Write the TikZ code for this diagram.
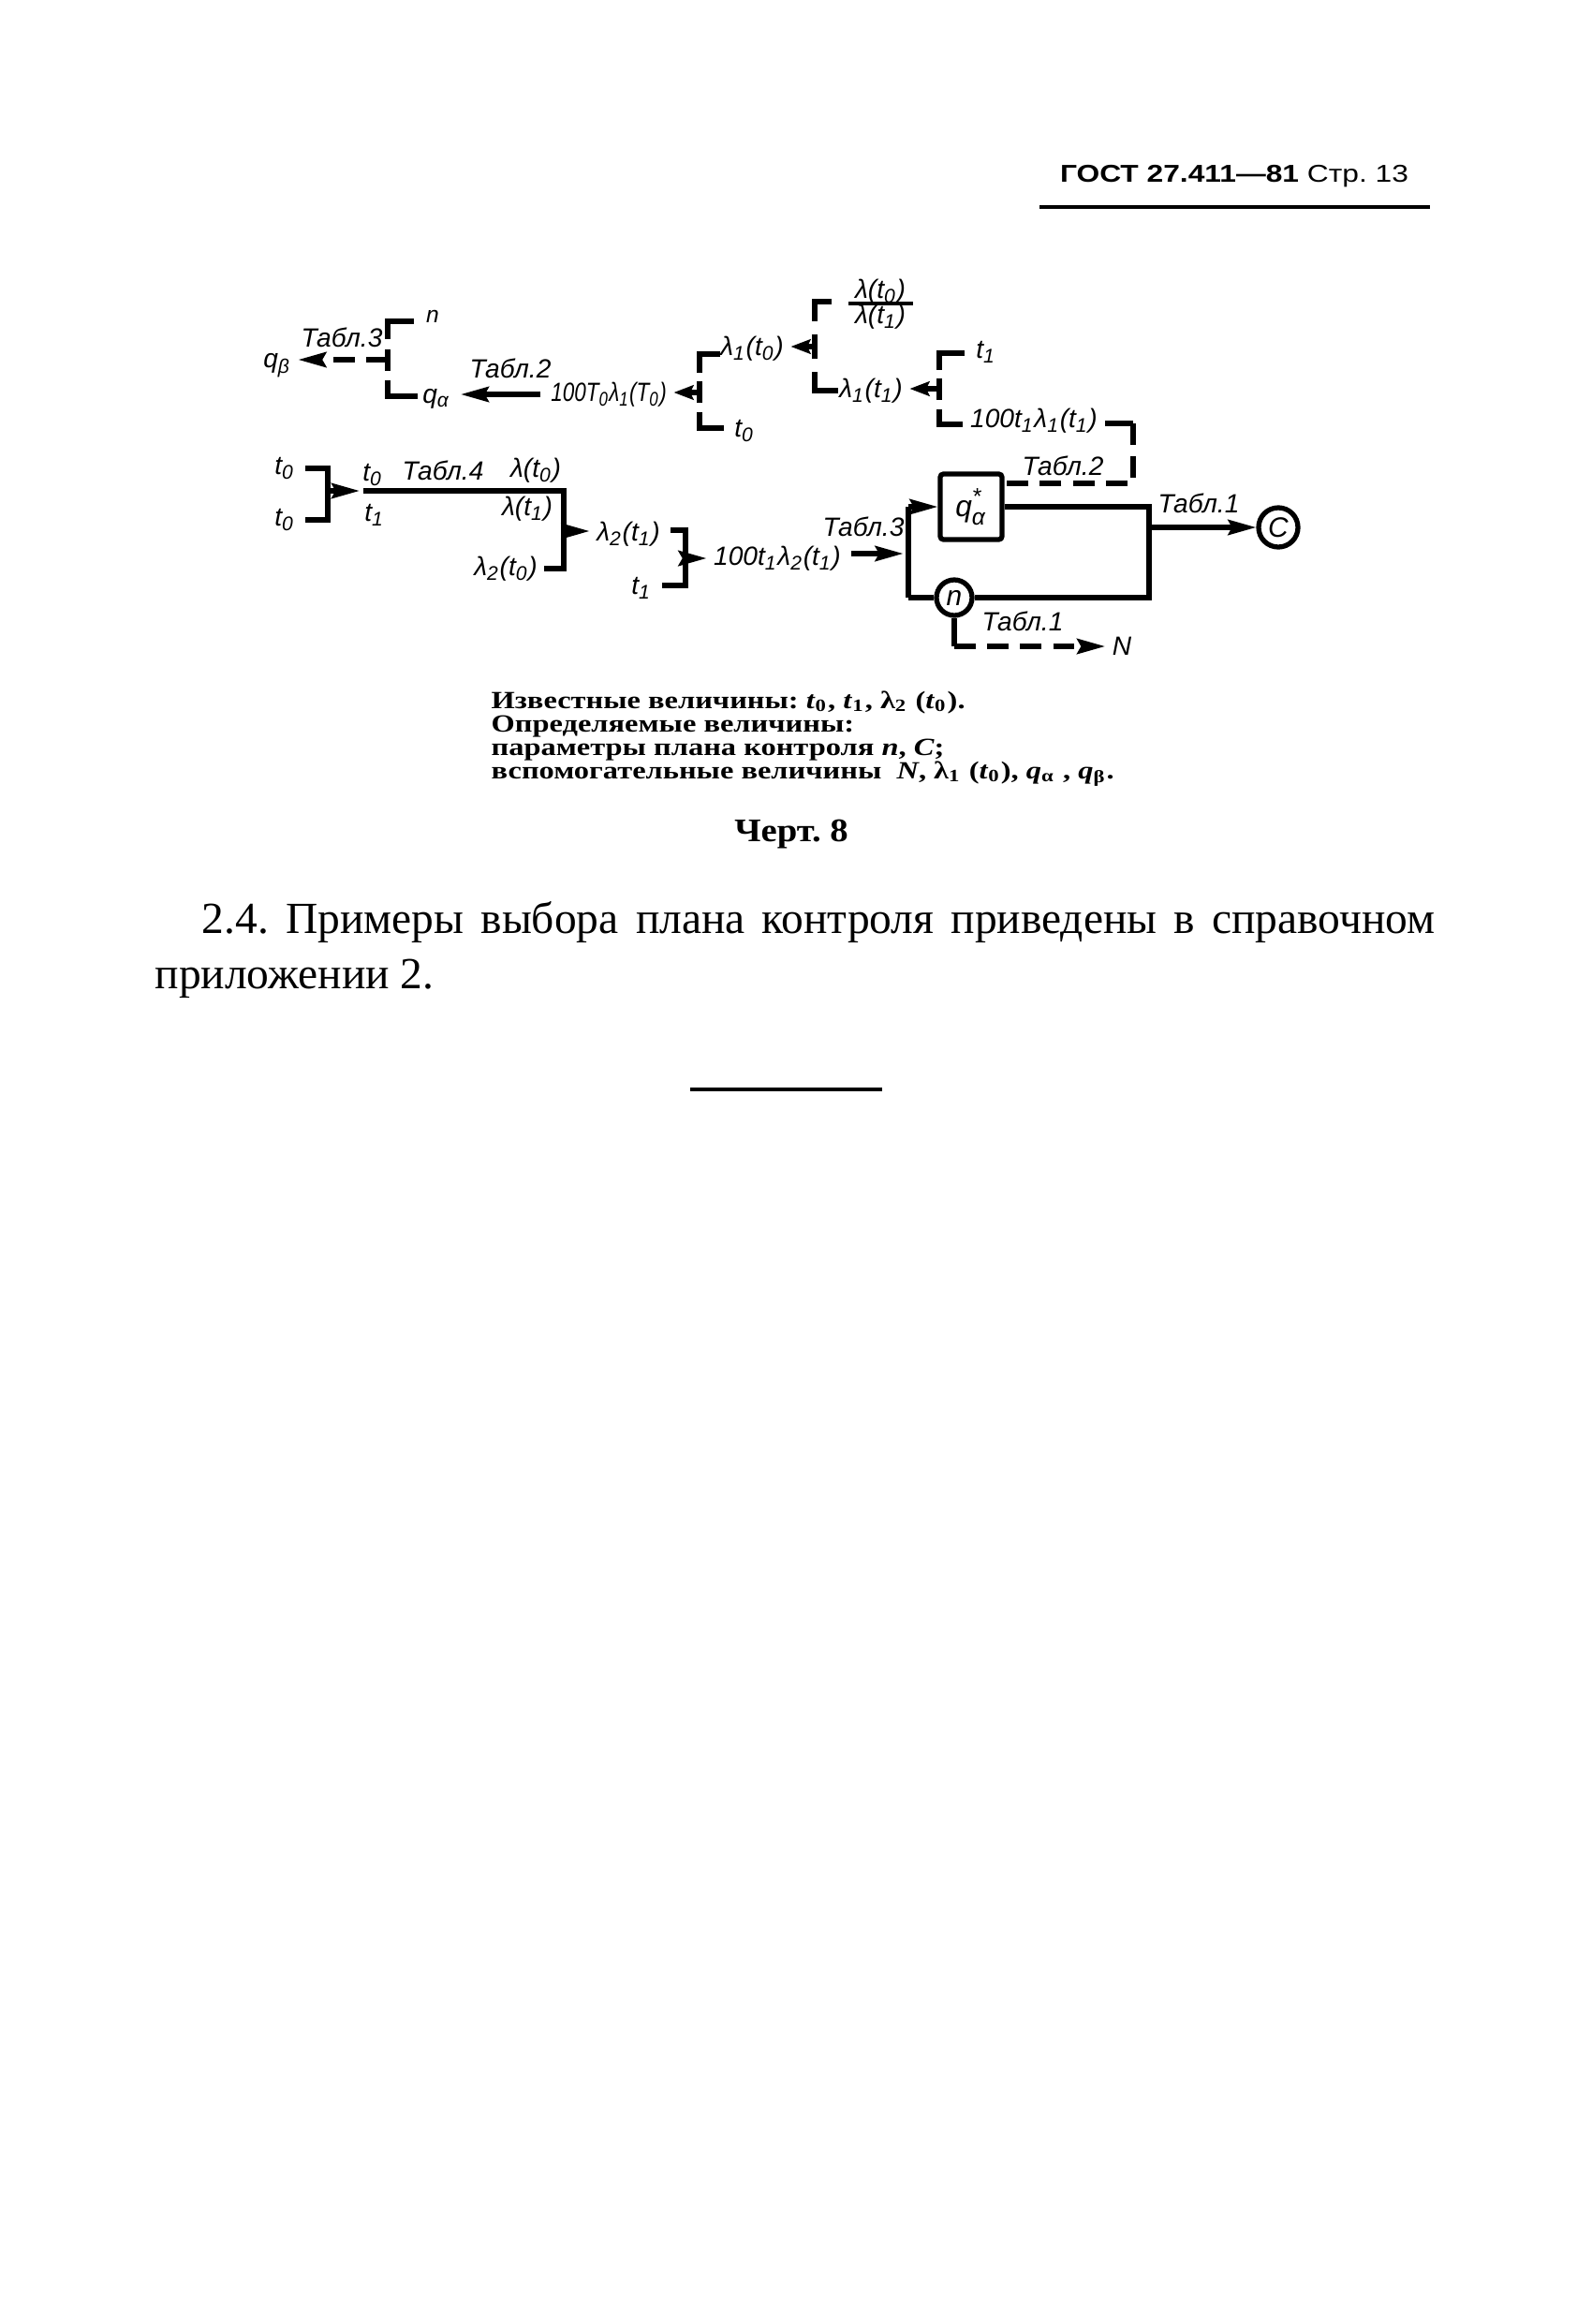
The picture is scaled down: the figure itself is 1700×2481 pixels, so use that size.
\documentclass[tikz,border=0pt]{standalone}
\usepackage{fontspec}
\usepackage{graphicx}
\setmainfont{Liberation Serif}
\newfontfamily\hdrfont{Liberation Sans}
\newfontfamily\drwfont{Liberation Sans}
\usetikzlibrary{arrows.meta}
\newcommand\sbs[1]{\textsubscript{#1}}
\tikzset{
  lbl/.style={inner sep=0pt,font=\drwfont\itshape\fontsize{8}{9}\selectfont},
  ln/.style={line width=1.5pt},
  arr/.style={line width=1.5pt,-{Stealth[length=8.5pt,width=4.6pt,inset=1.2pt]}},
  sarr/.style={line width=1.5pt,-{Stealth[length=6pt,width=4.4pt,inset=1pt]}},
  dsh/.style={line width=1.5pt,dash pattern=on 6.5pt off 3.5pt},
  darr/.style={dsh,-{Stealth[length=8.5pt,width=4.6pt,inset=1.2pt]}},
  ring/.style={circle,draw,line width=1.5pt,inner sep=0pt,font=\drwfont\itshape\fontsize{8.5}{9}\selectfont},
  blk/.style={draw,line width=1.5pt,rounded corners=1pt,inner sep=0pt,minimum width=0.66cm,minimum height=0.70cm,font=\drwfont\itshape\fontsize{9}{10}\selectfont},
  lgd/.style={anchor=base west,inner sep=0pt,font=\bfseries\fontsize{7.5}{8}\selectfont},
}
\begin{document}
\frenchspacing
\begin{tikzpicture}[x=0.01cm,y=-0.01cm]
\path[use as bounding box,fill=white] (0,0) rectangle (1700,2481);

% ---------- header ----------
\node[inner sep=0pt,font=\hdrfont\fontsize{7.4}{8}\selectfont] (hdr) at (1318,188)
  {\scalebox{1.22}[1]{\bfseries ГОСТ 27.411—81 \mdseries Стр. 13}};
\coordinate (hrL) at (1110,221); \coordinate (hrR) at (1527,221);
\draw[line width=1.2pt] (hrL) -- (hrR);

% ---------- top cluster ----------
\node[lbl] (tabA) at (365,360) {Табл.3};
\node[lbl,font=\drwfont\itshape\fontsize{7}{8}\selectfont] (nA) at (462,338) {n};
\node[lbl] (qb) at (296,390) {q\sbs{β}};
\node[lbl] (qa) at (466,426) {q\sbs{α}};
\node[lbl] (tabB) at (545,393) {Табл.2};
\node[lbl] (e1) at (650,421) {\scalebox{0.8}[1]{100T\sbs{0}λ\sbs{1}(T\sbs{0})}};

\coordinate (bA) at (414,384);
\draw[ln] (442,343) -| (414,362);
\draw[ln] (414,373) -- (414,396);
\draw[ln] (414,406) |- (446,423);
\draw[darr,shorten >=2pt] (bA) -- (qb.east |- bA);
\draw[arr,shorten <=3pt,shorten >=3pt] (e1.west) -- (qa.east |- e1.west);

% bracket 1
\node[lbl] (l1t0) at (803,372) {λ\sbs{1}(t\sbs{0})};
\node[lbl] (t0a) at (795,460) {t\sbs{0}};
\coordinate (b1) at (747,419);
\draw[ln] (769,378) -| (747,398);
\draw[ln] (747,407) -- (747,430);
\draw[ln] (747,440) |- (773,457);
\draw[sarr,shorten >=2pt] (b1) -- (e1.east |- b1);

% bracket 2
\node[lbl] (fnum) at (940,311) {λ(t\sbs{0})};
\node[lbl] (fden) at (940,338) {λ(t\sbs{1})};
\coordinate (fl) at (906,324); \coordinate (fr) at (975,324);
\draw[line width=1pt] (fl) -- (fr);
\node[lbl] (l1t1) at (930,417) {λ\sbs{1}(t\sbs{1})};
\coordinate (b2) at (870,370);
\draw[ln] (888,322) -| (870,343);
\draw[ln] (870,357) -- (870,383);
\draw[ln] (870,397) |- (895,417);
\draw[sarr,shorten >=2pt] (b2) -- (l1t0.east |- b2);

% bracket 3
\node[lbl] (t1a) at (1053,376) {t\sbs{1}};
\node[lbl] (e2) at (1104,449) {100t\sbs{1}λ\sbs{1}(t\sbs{1})};
\coordinate (b3) at (1003,415);
\draw[ln] (1030,377) -| (1003,395);
\draw[ln] (1003,404) -- (1003,427);
\draw[ln] (1003,437) |- (1028,453);
\draw[sarr,shorten >=2pt] (b3) -- (l1t1.east |- b3);

% ---------- second row ----------
\node[lbl] (t0b) at (304,500) {t\sbs{0}};
\node[lbl] (t0c) at (304,555) {t\sbs{0}};
\node[lbl] (t0d) at (398,507) {t\sbs{0}};
\node[lbl] (t1b) at (400,550) {t\sbs{1}};
\node[lbl] (tab4) at (473,502) {Табл.4};
\node[lbl] (lt0) at (572,502) {λ(t\sbs{0})};
\node[lbl] (lt1) at (563,543) {λ(t\sbs{1})};
\node[lbl] (l2t0) at (540,607) {λ\sbs{2}(t\sbs{0})};
\node[lbl] (l2t1) at (671,570) {λ\sbs{2}(t\sbs{1})};
\node[lbl] (t1c) at (685,628) {t\sbs{1}};
\node[lbl] (e3) at (830,596) {100t\sbs{1}λ\sbs{2}(t\sbs{1})};
\node[lbl] (tab3b) at (922,562) {Табл.3};

\coordinate (bB) at (350,524);
\coordinate (mainL) at (388,524);
\coordinate (mainR) at (602,524);
\coordinate (bD) at (602,567);
\coordinate (bC) at (732,596);
\draw[ln] (t0b.east) ++(3pt,0) -| (bB) |- ([xshift=3pt]t0c.east);
\draw[arr] (bB) -- (384,524);
\draw[ln] (mainL) -- (mainR) |- ([xshift=2pt]l2t0.east);
\draw[arr,shorten >=2pt] (bD) -- (l2t1.west |- bD);
\draw[ln] ([xshift=3pt]l2t1.east |- 0,566) -| (bC) |- ([xshift=3pt]t1c.east |- 0,625);
\draw[arr,shorten >=2pt] (bC) -- (e3.west |- bC);

% right network
\node[blk] (box) at (1037,541) {$\mbox{q}^{\mbox{\scriptsize *}}_{\mbox{\scriptsize α}}$};
\node[ring,minimum size=0.42cm] (cC) at (1365,563) {C};
\node[ring,minimum size=0.38cm] (cn) at (1019,638) {n};
\node[lbl] (tab2b) at (1135,497) {Табл.2};
\node[lbl] (tab1a) at (1280,537) {Табл.1};
\node[lbl] (tab1b) at (1092,663) {Табл.1};
\node[lbl] (nN) at (1198,690) {N};

\coordinate (vT) at (970,541);
\coordinate (vB) at (970,638);
\coordinate (jR) at (1227,541);
\coordinate (jC) at (1227,563);
\coordinate (fbA) at (1180,452);
\coordinate (fbB) at (1210,452);
\coordinate (fbC) at (1210,516);
\coordinate (nD) at (1019,690);

\draw[arr,shorten >=1pt] ([xshift=3pt]e3.east |- 0,591) -- (968,591);
\draw[ln] (vB) -- (vT);
\draw[arr] (vT) -- (box.west);
\draw[ln] (box.east) -- (jR) |- (cn.east);
\draw[ln] (vB) -- (cn.west);
\draw[arr] (jC) -- (cC.west);
\draw[ln] (fbA) -- (fbB);
\draw[dsh] (fbB) -- (fbC) -- (box.east |- fbC);
\draw[ln] (cn.south) -- (nD);
\draw[darr,shorten >=2pt] (nD) -- (nN.west |- nD);

% ---------- legend ----------
\node[lgd] (lg1) at (524,756) {\scalebox{1.23}[1]{Известные величины: \textit{t}\sbs{0}, \textit{t}\sbs{1}, λ\sbs{2} (\textit{t}\sbs{0}).}};
\node[lgd] (lg2) at (524,781) {\scalebox{1.23}[1]{Определяемые величины:}};
\node[lgd] (lg3) at (524,806) {\scalebox{1.23}[1]{параметры плана контроля \textit{n}, \textit{C};}};
\node[lgd] (lg4) at (524,831) {\scalebox{1.23}[1]{вспомогательные величины\ \ \textit{N}, λ\sbs{1} (\textit{t}\sbs{0}), \textit{q}\sbs{α} , \textit{q}\sbs{β}.}};

\node[inner sep=0pt,font=\bfseries\fontsize{10}{12}\selectfont] (cap) at (845,891) {\scalebox{1.1}[1]{Черт. 8}};

% ---------- paragraph ----------
\node[anchor=base west,inner sep=0pt,font=\fontsize{13.5}{15}\selectfont] (p1) at (215,996)
  {\makebox[13.16cm][s]{2.4. Примеры выбора плана контроля приведены в справочном}};
\node[anchor=base west,inner sep=0pt,font=\fontsize{13.5}{15}\selectfont] (p2) at (165,1055)
  {приложении 2.};

\coordinate (brL) at (737,1163); \coordinate (brR) at (942,1163);
\draw[line width=0.9pt] (brL) -- (brR);
\end{tikzpicture}
\end{document}
